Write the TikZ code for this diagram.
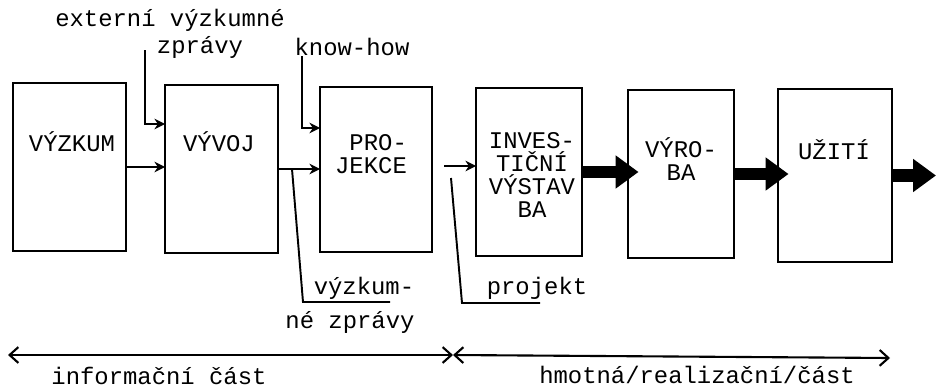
\documentclass[tikz,border=0pt]{standalone}
\usepackage{fontspec}
\newfontfamily\stroj{Liberation Mono}
\usepackage{tikz}
\usetikzlibrary{arrows.meta,positioning,calc}

\begin{document}
\begin{tikzpicture}[x=0.02cm,y=-0.02cm,
  blok/.style={draw,line width=1.6pt,inner sep=0pt,outer sep=0pt},
  napis/.style={font=\stroj\fontsize{13.6}{13.2}\selectfont,inner sep=0pt,align=center},
  tenka/.style={line width=1.1pt},
  sipka/.style={tenka,-{Stealth[length=6pt,width=6pt]}},
  tlusta/.style={line width=7pt,-{Triangle[length=13pt,width=18pt]},shorten >=-6pt},
  rozsah/.style={line width=1.2pt,{Straight Barb[length=5pt,width=9pt]}-{Straight Barb[length=5pt,width=9pt]}}]
\useasboundingbox (0,0) rectangle (944,389);
% bloky: sest stupnu
\node[blok,minimum width=2.26cm,minimum height=3.36cm] (vyzkum) at (69.5,167) {};
\node[blok,minimum width=2.26cm,minimum height=3.36cm] (vyvoj) at (221.5,169) {};
\node[blok,minimum width=2.24cm,minimum height=3.30cm] (projekce) at (376,169.5) {};
\node[blok,minimum width=2.12cm,minimum height=3.36cm] (investicni) at (529,172) {};
\node[blok,minimum width=2.12cm,minimum height=3.36cm] (vyroba) at (681,174) {};
\node[blok,minimum width=2.28cm,minimum height=3.46cm] (uziti) at (835,175.5) {};
\node[napis] (tvyzkum) at (72,142) {VÝZKUM};
\node[napis] (tvyvoj) at (219,142) {VÝVOJ};
\node[napis,align=right] (tprojekce) at (371,154) {PRO-\\JEKCE};
\node[napis] (tinvest) at (532,175) {INVES-\\TIČNÍ\\VÝSTAV\\BA};
\node[napis] (tvyroba) at (681,159) {VÝRO-\\BA};
\node[napis] (tuziti) at (834,150) {UŽITÍ};
% popisky
\node[napis] (extzpr) at (170,20) {externí výzkumné};
\node[napis] (zpravy) at (200,47) {zprávy};
\node[napis] (knowhow) at (352,47) {know-how};
\node[napis] (vyzk) at (364,288) {výzkum-};
\node[napis] (nezpr) at (350,322) {né zprávy};
\node[napis] (projekt) at (537,288) {projekt};
\node[napis] (infcast) at (159,376) {informační část};
\node[napis] (hmcast) at (697,375) {hmotná/realizační/část};
% vstupy shora
\coordinate (ext) at (145,50);
\coordinate (extk) at (145,124);
\draw[sipka] (ext) -- (extk) -- (extk -| vyvoj.west);
\coordinate (kh) at (302,56);
\coordinate (khk) at (302,128);
\draw[sipka] (kh) -- (khk) -- (khk -| projekce.west);
% hlavni tok
\draw[sipka] (vyzkum.east) -- (vyzkum.east -| vyvoj.west);
\draw[sipka] (vyvoj.east) -- (vyvoj.east -| projekce.west);
\coordinate (pf) at (444,166);
\draw[sipka] (pf) -- (pf -| investicni.west);
\draw[tlusta] (investicni.east) -- (investicni.east -| vyroba.west);
\draw[tlusta] (vyroba.east) -- (vyroba.east -| uziti.west);
\coordinate (ven) at (936,175.5);
\draw[tlusta,shorten >=0pt] (uziti.east) -- (ven);
% odbocky dolu
\coordinate (vzf) at (292,169);
\coordinate (vzk) at (303,302);
\coordinate (vzz) at (390,302);
\draw[tenka] (vzf) -- (vzk) -- (vzz);
\coordinate (pjf) at (451,178);
\coordinate (pjk) at (462,303);
\coordinate (pjz) at (540,303);
\draw[tenka] (pjf) -- (pjk) -- (pjz);
% casti
\coordinate (dl) at (8,355);
\coordinate (dm) at (453,355);
\coordinate (dr) at (890,358);
\draw[rozsah] (dl) -- (dm);
\draw[rozsah] (dm) -- (dr);
\end{tikzpicture}
\end{document}
